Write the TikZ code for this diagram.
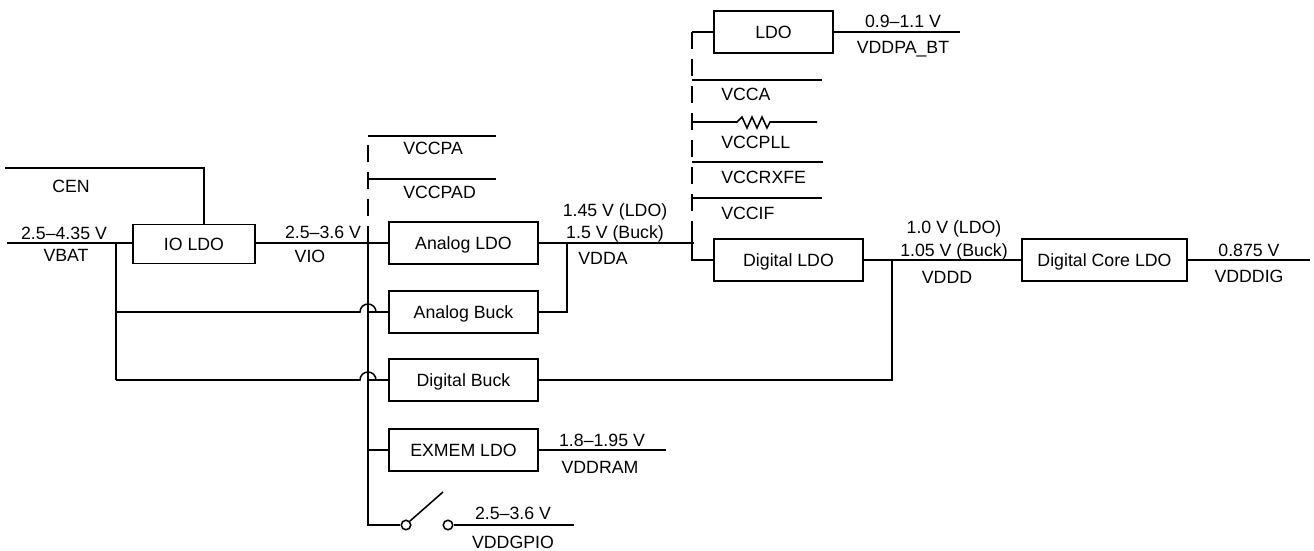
\documentclass[tikz,border=0pt]{standalone}
\usepackage{fontspec}
\setmainfont{Liberation Sans}
\usetikzlibrary{calc}

\def\px{0.75pt}

\tikzset{
  wire/.style={line width=1.15pt},
  railwire/.style={wire, dash pattern=on 17*\px off 10*\px},
  ldobox/.style={draw, line width=1.3pt, rectangle, inner sep=0pt, minimum height=42*\px,
    text height=9.5pt, text depth=0pt, font=\fontsize{13.3}{16}\selectfont},
  volt/.style={inner sep=0pt, text height=9.5pt, text depth=0pt},
  tap/.style={volt, anchor=west},
  contact/.style={draw, circle, line width=1.15pt, fill=white, inner sep=0pt, minimum size=9.5*\px}
}

\newcommand{\hopto}[2]{
  \draw[wire] (#1) -- ($(#2)+(-8,0)$) arc[start angle=180, end angle=0, radius=8*\px] -- ($(#2)+(10,0)$) -- (#2);
}

\begin{document}
\begin{tikzpicture}[x=0.75pt, y=-0.75pt]
\useasboundingbox (0,0) rectangle (1314,550);

% Regulator blocks
\node[ldobox, minimum width=122*\px, minimum height=39*\px] (io) at (194,244) {IO LDO};
\node[ldobox, minimum width=149*\px] (analogldo) at (463.5,243) {Analog LDO};
\node[ldobox, minimum width=149*\px] (analogbuck) at (463.5,312) {Analog Buck};
\node[ldobox, minimum width=149*\px] (digitalbuck) at (463.5,380) {Digital Buck};
\node[ldobox, minimum width=149*\px] (exmem) at (463.5,450) {EXMEM LDO};
\node[ldobox, minimum width=119*\px] (btldo) at (773.5,32) {LDO};
\node[ldobox, minimum width=149*\px] (digitalldo) at (788.5,260) {Digital LDO};
\node[ldobox, minimum width=165*\px] (coreldo) at (1104.5,260) {Digital Core LDO};

% Junctions and free ends
\coordinate (cenin) at (5,168);
\coordinate (cendrop) at (204,225);
\coordinate (vbatin) at (7,243);
\coordinate (vbatbus) at (116,243);
\coordinate (viobus) at (368,243);
\coordinate (hopA) at (368,312);
\coordinate (hopD) at (368,380);
\coordinate (busend) at (368,525);
\coordinate (vccpa) at (368,136);
\coordinate (vccpaend) at (496,136);
\coordinate (vccpad) at (368,179);
\coordinate (vccpadend) at (496,179);
\coordinate (vddamerge) at (567,243);
\coordinate (railin) at (694,243);
\coordinate (railtop) at (692,32);
\coordinate (raildash) at (692,224);
\coordinate (railbot) at (692,260);
\coordinate (vddpaend) at (960,32);
\coordinate (vcca) at (692,80);
\coordinate (vccaend) at (822,80);
\coordinate (vccpll) at (692,122);
\coordinate (resin) at (737,122);
\coordinate (resout) at (770,122);
\coordinate (vccpllend) at (817,122);
\coordinate (vccrx) at (692,162);
\coordinate (vccrxend) at (823,162);
\coordinate (vccif) at (692,198);
\coordinate (vccifend) at (822,198);
\coordinate (vdddmerge) at (892,260);
\coordinate (vdddigend) at (1310,260);
\coordinate (vddramend) at (666,450);
\coordinate (gpioend) at (574,525);

% Switch contacts
\node[contact] (swa) at (406,525) {};
\node[contact] (swb) at (448,525) {};
\coordinate (swtip) at (443,492);

% Input side
\draw[wire] (cenin) -| (cendrop);
\draw[wire] (vbatin) -- (vbatin -| io.west);
\draw[wire] (viobus -| io.east) -- (analogldo.west);
\draw[wire] (vbatbus) -- (vbatbus |- digitalbuck);
\hopto{vbatbus |- analogbuck}{hopA}
\draw[wire] (hopA) ++(10,0) -- (analogbuck.west);
\hopto{vbatbus |- digitalbuck}{hopD}
\draw[wire] (hopD) ++(10,0) -- (digitalbuck.west);

% VIO bus
\draw[wire] (viobus) -- (busend) -- (swa.west);
\draw[railwire] (viobus) -- (vccpa);
\draw[wire] (vccpa) -- (vccpaend);
\draw[wire] (vccpad) -- (vccpadend);
\draw[wire] (viobus |- exmem) -- (exmem.west);
\draw[wire] (exmem.east) -- (vddramend);
\draw[wire] (swa.north east) -- (swtip);
\draw[wire] (swb.east) -- (gpioend);

% VDDA
\draw[wire] (analogldo.east) -- (railin);
\draw[wire] (analogbuck.east) -| (vddamerge);
\draw[railwire] (railtop) -- (raildash);
\draw[wire] (raildash) -- (railbot) -- (digitalldo.west);
\draw[wire] (railtop) -- (btldo.west);
\draw[wire] (btldo.east) -- (vddpaend);
\draw[wire] (vcca) -- (vccaend);
\draw[wire] (vccpll) -- (resin)
  -- ++(5,-5) -- ++(5,11) -- ++(5,-11) -- ++(5,11) -- ++(5,-11) -- ++(5,11)
  -- (resout) -- (vccpllend);
\draw[wire] (vccrx) -- (vccrxend);
\draw[wire] (vccif) -- (vccifend);

% VDDD
\draw[wire] (digitalldo.east) -- (coreldo.west);
\draw[wire] (digitalbuck.east) -| (vdddmerge);
\draw[wire] (coreldo.east) -- (vdddigend);

% Labels
\begin{scope}[font=\fontsize{13.3}{16}\selectfont]
  \node[tap] (lblcen) at (52,186) {CEN};
  \node[volt] (lblvbatv) at (64,233) {2.5–4.35 V};
  \node[volt] (lblvbat) at (66,255) {VBAT};
  \node[volt] (lblviov) at (323,232) {2.5–3.6 V};
  \node[volt] (lblvio) at (310,256) {VIO};
  \node[tap] (lblpa) at (403,148) {VCCPA};
  \node[tap] (lblpad) at (403,192) {VCCPAD};
  \node[volt] (lblvddaa) at (615,210) {1.45 V (LDO)};
  \node[volt] (lblvddab) at (615,232) {1.5 V (Buck)};
  \node[volt] (lblvdda) at (603,258) {VDDA};
  \node[volt] (lblbtv) at (903,21) {0.9–1.1 V};
  \node[volt] (lblbt) at (903,47) {VDDPA\_BT};
  \node[tap] (lblcca) at (721,94) {VCCA};
  \node[tap] (lblpll) at (721,142) {VCCPLL};
  \node[tap] (lblrx) at (721,177) {VCCRXFE};
  \node[tap] (lblif) at (721,213) {VCCIF};
  \node[volt] (lblvddda) at (954,227) {1.0 V (LDO)};
  \node[volt] (lblvdddb) at (954,250) {1.05 V (Buck)};
  \node[volt] (lblvddd) at (947,277) {VDDD};
  \node[volt] (lbldigv) at (1249,250) {0.875 V};
  \node[volt] (lbldig) at (1249,276) {VDDDIG};
  \node[volt] (lblramv) at (602,440) {1.8–1.95 V};
  \node[volt] (lblram) at (600,467) {VDDRAM};
  \node[volt] (lblgpiov) at (513,513) {2.5–3.6 V};
  \node[volt] (lblgpio) at (513,542) {VDDGPIO};
\end{scope}

\end{tikzpicture}
\end{document}
